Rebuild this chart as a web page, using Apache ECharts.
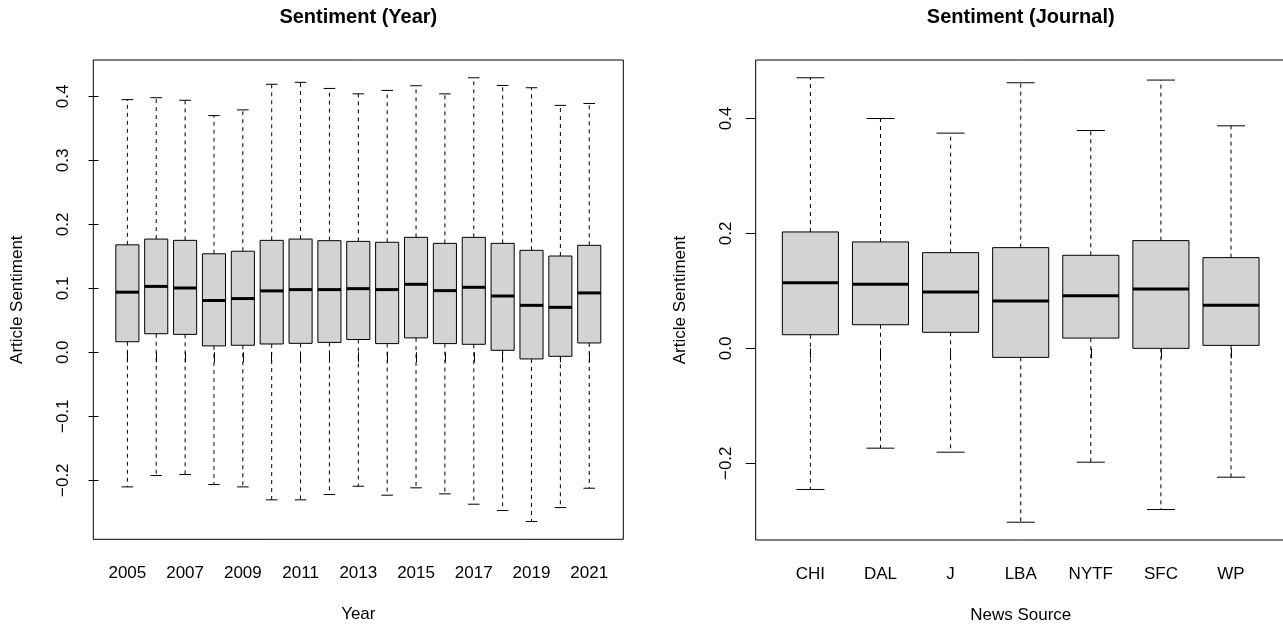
<!DOCTYPE html>
<html>
<head>
<meta charset="utf-8">
<title>Sentiment</title>
<script src="https://cdn.jsdelivr.net/npm/echarts@6/dist/echarts.min.js"></script>
<style>
  html, body { margin: 0; padding: 0; background: #fff; }
  #chart { width: 1283px; height: 628px; }
</style>
</head>
<body>
<div id="chart"></div>
<script>
// 左图：按年份
var years = ['2005', '2006', '2007', '2008', '2009', '2010', '2011', '2012', '2013',
             '2014', '2015', '2016', '2017', '2018', '2019', '2020', '2021'];
var yearMax = [0.395, 0.398, 0.394, 0.370, 0.379, 0.419, 0.422, 0.4125, 0.404,
               0.4094, 0.4167, 0.404, 0.4292, 0.4172, 0.4136, 0.386, 0.389];
var yearQ3  = [0.168, 0.177, 0.175, 0.154, 0.158, 0.175, 0.177, 0.1745, 0.1734,
               0.172, 0.1797, 0.1703, 0.1797, 0.1703, 0.1594, 0.1505, 0.1672];
var yearMed = [0.094, 0.103, 0.1005, 0.081, 0.084, 0.096, 0.098, 0.098, 0.0995,
               0.098, 0.1063, 0.0964, 0.1016, 0.088, 0.0734, 0.0703, 0.0928];
var yearQ1  = [0.0165, 0.029, 0.028, 0.010, 0.011, 0.013, 0.014, 0.0155, 0.020,
               0.0136, 0.0225, 0.0136, 0.0125, 0.0031, -0.0104, -0.0063, 0.0146];
var yearMin = [-0.2104, -0.1927, -0.191, -0.2068, -0.2104, -0.2307, -0.2307, -0.2224, -0.2094,
               -0.2234, -0.2119, -0.2213, -0.2375, -0.2474, -0.2646, -0.2427, -0.2125];

// 右图：按报社
var sources = ['CHI', 'DAL', 'J', 'LBA', 'NYTF', 'SFC', 'WP'];
var srcMax = [0.4709, 0.400, 0.3746, 0.4622, 0.3791, 0.4669, 0.3873];
var srcQ3  = [0.2026, 0.1852, 0.1666, 0.1753, 0.162, 0.1875, 0.1579];
var srcMed = [0.1143, 0.1115, 0.0981, 0.0824, 0.0917, 0.1033, 0.0749];
var srcQ1  = [0.0237, 0.0411, 0.0279, -0.0157, 0.0179, 0.0, 0.0052];
var srcMin = [-0.2456, -0.1737, -0.1807, -0.3026, -0.1981, -0.2805, -0.2242];

// 刻度
var yearTicksY = [-0.2, -0.1, 0, 0.1, 0.2, 0.3, 0.4];
var srcTicksY = [-0.2, 0, 0.2, 0.4];
var yearTicksX = [1, 2, 3, 4, 5, 6, 7, 8, 9, 10, 11, 12, 13, 14, 15, 16, 17];
var yearLabelsX = [1, 3, 5, 7, 9, 11, 13, 15, 17];
var srcTicksX = [1, 2, 3, 4, 5, 6, 7];

var FONT = "'Liberation Sans', Arial, Helvetica, sans-serif";

// 组装箱线数据 [x, min, q1, med, q3, max]
function buildData(mins, q1s, meds, q3s, maxs) {
    var out = [];
    for (var i = 0; i < mins.length; i++) {
        out.push([i + 1, mins[i], q1s[i], meds[i], q3s[i], maxs[i]]);
    }
    return out;
}

// 类似R的坐标范围：数据范围两边各扩4%
function extendRange(lo, hi) {
    var d = (hi - lo) * 0.04;
    return [lo - d, hi + d];
}

function fmtY(v) {
    return v.toFixed(1).replace('-', '\u2212');
}

// 画R风格的箱线图
function renderBox(params, api) {
    var x = api.value(0);
    var lo = api.coord([x, api.value(1)]);
    var q1 = api.coord([x, api.value(2)]);
    var md = api.coord([x, api.value(3)]);
    var q3 = api.coord([x, api.value(4)]);
    var hi = api.coord([x, api.value(5)]);
    var w = api.size([0.8, 0])[0];
    var cx = lo[0];
    var sw = w / 4;
    var dash = { stroke: '#000', lineWidth: 1, lineDash: [4, 4], fill: null };
    var solid = { stroke: '#000', lineWidth: 1, fill: null };
    return {
        type: 'group',
        children: [
            { type: 'line', shape: { x1: cx, y1: q3[1], x2: cx, y2: hi[1] }, style: dash },
            { type: 'line', shape: { x1: cx, y1: q1[1], x2: cx, y2: lo[1] }, style: dash },
            { type: 'line', shape: { x1: cx - sw, y1: hi[1], x2: cx + sw, y2: hi[1] }, style: solid },
            { type: 'line', shape: { x1: cx - sw, y1: lo[1], x2: cx + sw, y2: lo[1] }, style: solid },
            { type: 'rect', shape: { x: cx - w / 2, y: q3[1], width: w, height: q1[1] - q3[1] },
              style: { fill: '#d3d3d3', stroke: '#000', lineWidth: 1 } },
            { type: 'line', shape: { x1: cx - w / 2, y1: md[1], x2: cx + w / 2, y2: md[1] },
              style: { stroke: '#000', lineWidth: 3 } }
        ]
    };
}

function xAxisOpt(idx, n, names, ticks, labels, title) {
    return {
        type: 'value', gridIndex: idx,
        min: 0.5 - 0.04 * n, max: n + 0.5 + 0.04 * n,
        name: title, nameLocation: 'middle', nameGap: 67,
        nameTextStyle: { fontSize: 17, color: '#000', fontFamily: FONT },
        axisLine: { show: false },
        splitLine: { show: false },
        axisTick: { show: true, inside: false, length: 10, customValues: ticks,
                    lineStyle: { color: '#000', width: 1 } },
        axisLabel: { show: true, margin: 26, fontSize: 17, color: '#000', fontFamily: FONT,
                     customValues: labels,
                     formatter: function (v) { return names[Math.round(v) - 1]; } }
    };
}

function yAxisOpt(idx, range, ticks) {
    return {
        type: 'value', gridIndex: idx,
        min: range[0], max: range[1],
        name: 'Article Sentiment', nameLocation: 'middle', nameGap: 67,
        nameTextStyle: { fontSize: 17, color: '#000', fontFamily: FONT },
        axisLine: { show: false },
        splitLine: { show: false },
        axisTick: { show: true, inside: false, length: 10, customValues: ticks,
                    lineStyle: { color: '#000', width: 1 } },
        axisLabel: { show: true, rotate: 90, margin: 21, fontSize: 17, color: '#000',
                     fontFamily: FONT, customValues: ticks, formatter: fmtY }
    };
}

var yearRange = extendRange(Math.min.apply(null, yearMin), Math.max.apply(null, yearMax));
var srcRange = extendRange(Math.min.apply(null, srcMin), Math.max.apply(null, srcMax));

var chart = echarts.init(document.getElementById('chart'), null, { renderer: 'canvas' });
var option = {
    backgroundColor: '#fff',
    animation: false,
    title: [
        { text: 'Sentiment (Year)', left: 358.3, top: 7, textAlign: 'center', padding: 0,
          textStyle: { fontSize: 20, fontWeight: 'bold', color: '#000', fontFamily: FONT } },
        { text: 'Sentiment (Journal)', left: 1020.7, top: 7, textAlign: 'center', padding: 0,
          textStyle: { fontSize: 20, fontWeight: 'bold', color: '#000', fontFamily: FONT } }
    ],
    grid: [
        { left: 93.3, top: 60, width: 530, height: 479.3, show: true, borderColor: '#000',
          borderWidth: 1, backgroundColor: 'transparent', containLabel: false, outerBoundsMode: 'none' },
        { left: 755.7, top: 60, width: 530, height: 480, show: true, borderColor: '#000',
          borderWidth: 1, backgroundColor: 'transparent', containLabel: false, outerBoundsMode: 'none' }
    ],
    xAxis: [
        xAxisOpt(0, years.length, years, yearTicksX, yearLabelsX, 'Year'),
        xAxisOpt(1, sources.length, sources, srcTicksX, srcTicksX, 'News Source')
    ],
    yAxis: [
        yAxisOpt(0, yearRange, yearTicksY),
        yAxisOpt(1, srcRange, srcTicksY)
    ],
    series: [
        { type: 'custom', xAxisIndex: 0, yAxisIndex: 0, renderItem: renderBox,
          encode: { x: 0, y: [1, 2, 3, 4, 5] },
          data: buildData(yearMin, yearQ1, yearMed, yearQ3, yearMax) },
        { type: 'custom', xAxisIndex: 1, yAxisIndex: 1, renderItem: renderBox,
          encode: { x: 0, y: [1, 2, 3, 4, 5] },
          data: buildData(srcMin, srcQ1, srcMed, srcQ3, srcMax) }
    ]
};
chart.setOption(option);
</script>
</body>
</html>
